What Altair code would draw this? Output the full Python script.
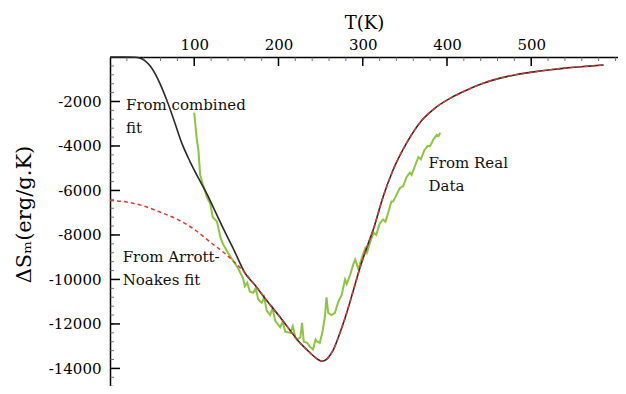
import altair as alt
import pandas as pd

FONT = "DejaVu Serif"

# Combined fit (black), low-temperature part before it merges with the Arrott-Noakes curve
black_T = [0, 20, 30, 36, 42, 48, 54, 60, 68, 76, 85, 95, 105, 115, 125, 135, 148, 160]
black_S = [0, 0, -10, -60, -180, -420, -780, -1250, -2000, -2850, -3850, -4700, -5450, -6150,
           -6950, -7750, -8750, -9700]

# Arrott-Noakes fit (red dashed)
red_T = [0, 20, 40, 60, 80, 100, 120, 140, 160, 173, 186, 202, 214, 222, 234, 247, 252, 258, 265,
         273, 281, 289, 297, 305, 313, 324, 336, 352, 370, 384, 404, 424, 443, 463, 483, 503, 523,
         543, 565, 586]
red_S = [-6450, -6520, -6700, -6980, -7300, -7750, -8350, -8950, -9700, -10300, -10950, -11700,
         -12300, -12700, -13170, -13600, -13680, -13560, -13170, -12400, -11500, -10470, -9440,
         -8550, -7700, -6300, -5080, -3870, -2850, -2350, -1850, -1480, -1180, -950, -790, -670,
         -570, -490, -420, -360]

# Real data (green)
green_T = [100, 103, 105, 107, 110, 115, 119, 122, 127, 131, 134, 140, 146, 152, 156, 158, 160,
           163, 166, 170, 173, 176, 180, 183, 186, 190, 193, 196, 202, 205, 208, 214, 217, 220,
           222, 226, 228, 230, 234, 238, 241, 244, 246, 249, 252, 255, 257, 259, 263, 267, 271,
           275, 279, 281, 285, 289, 291, 295, 299, 303, 305, 309, 313, 316, 320, 324, 327, 331,
           334, 336, 340, 344, 348, 352, 356, 358, 362, 366, 369, 373, 377, 380, 384, 388, 390, 392]
green_S = [-2500, -3700, -4200, -5300, -5700, -6300, -6600, -7200, -7400, -8100, -8400, -8800,
           -9150, -9500, -9800, -9950, -10300, -10150, -10550, -10600, -10400, -10900, -11050,
           -10800, -11400, -11600, -11300, -11850, -12150, -11900, -12350, -12400, -12100, -12600,
           -12700, -12600, -11950, -12800, -12850, -13050, -13150, -12700, -12800, -12850, -12400,
           -11700, -10800, -11500, -11600, -11500, -11000, -10700, -10000, -10200, -9800, -9300,
           -9100, -9550, -9000, -8600, -8800, -8300, -7900, -8000, -7500, -7300, -7400, -6900,
           -6500, -6500, -6200, -5900, -5800, -5400, -5200, -5300, -4900, -4500, -4600, -4200,
           -4000, -4000, -3700, -3500, -3550, -3400]

x_ticks = [100, 200, 300, 400, 500]
y_ticks = [-2000, -4000, -6000, -8000, -10000, -12000, -14000]
x_minor = list(range(20, 601, 20))
y_minor = list(range(-400, -14801, -400))

labels = ["From combined\nfit", "From Arrott-\nNoakes fit", "From Real\nData"]
label_T = [19, 15, 378]
label_S = [-2380, -9210, -4990]

X_DOMAIN = [0, 603]
Y_DOMAIN = [-14790, 0]

# Combined fit follows the Arrott-Noakes curve after the merge point
comb_T = black_T + [t for t in red_T if t > 160]
comb_S = black_S + [s for t, s in zip(red_T, red_S) if t > 160]

df_black = pd.DataFrame({"T": comb_T, "S": comb_S})
df_red = pd.DataFrame({"T": red_T, "S": red_S})
df_green = pd.DataFrame({"T": green_T, "S": green_S})
df_lab = pd.DataFrame({"T": label_T, "S": label_S, "txt": labels})

xs = alt.Scale(domain=X_DOMAIN, nice=False, zero=False)
ys = alt.Scale(domain=Y_DOMAIN, nice=False, zero=False)

x_axis = alt.Axis(orient="top", values=x_ticks, tickSize=0, domainColor="black", domainWidth=1.5,
                  labelFont=FONT, labelFontSize=15, labelColor="black", labelPadding=5,
                  labelExpr="'' + datum.value", grid=False,
                  title="T(K)", titleFont=FONT, titleFontSize=18, titleFontWeight="normal",
                  titleColor="black", titlePadding=5)
y_axis = alt.Axis(values=y_ticks, tickSize=0, domainColor="black", domainWidth=1.5,
                  labelFont=FONT, labelFontSize=15, labelColor="black", labelPadding=9,
                  labelExpr="'' + datum.value", grid=False,
                  title="ΔSₘ(erg/g.K)", titleFont=FONT, titleFontSize=21, titleFontWeight="normal",
                  titleColor="black", titleX=-86, titleY=157, titleAngle=270,
                  titleAlign="center", titleBaseline="middle")

base_black = alt.Chart(df_black).mark_line(color="#2a2a2a", strokeWidth=1.6,
                                           interpolate="monotone").encode(
    x=alt.X("T:Q", scale=xs, axis=x_axis),
    y=alt.Y("S:Q", scale=ys, axis=y_axis),
    order="T:Q",
)
red = alt.Chart(df_red).mark_line(color="#e03a2f", strokeWidth=1.5, strokeDash=[4, 3],
                                  interpolate="monotone").encode(
    x=alt.X("T:Q", scale=xs), y=alt.Y("S:Q", scale=ys), order="T:Q")
green = alt.Chart(df_green).mark_line(color="#8cc63f", strokeWidth=2).encode(
    x=alt.X("T:Q", scale=xs), y=alt.Y("S:Q", scale=ys), order="T:Q")

xt_major = alt.Chart(pd.DataFrame({"T": x_ticks})).mark_rule(color="black", strokeWidth=1.5).encode(
    x=alt.X("T:Q", scale=xs), y=alt.value(0), y2=alt.value(9))
xt_minor = alt.Chart(pd.DataFrame({"T": x_minor})).mark_rule(color="#555", strokeWidth=0.8).encode(
    x=alt.X("T:Q", scale=xs), y=alt.value(0), y2=alt.value(4))
yt_major = alt.Chart(pd.DataFrame({"S": y_ticks})).mark_rule(color="black", strokeWidth=1.5).encode(
    y=alt.Y("S:Q", scale=ys), x=alt.value(0), x2=alt.value(10))
yt_minor = alt.Chart(pd.DataFrame({"S": y_minor})).mark_rule(color="#555", strokeWidth=0.8).encode(
    y=alt.Y("S:Q", scale=ys), x=alt.value(0), x2=alt.value(4))

text = alt.Chart(df_lab).mark_text(font=FONT, fontSize=15, align="left", baseline="alphabetic",
                                   lineBreak="\n", lineHeight=23, color="#111").encode(
    x=alt.X("T:Q", scale=xs), y=alt.Y("S:Q", scale=ys), text="txt:N")

chart = alt.layer(green, base_black, red, xt_minor, yt_minor, xt_major, yt_major, text).properties(
    width=508, height=329,
    autosize=alt.AutoSizeParams(type="none"),
    padding={"left": 102, "top": 49, "right": 0, "bottom": 0},
).configure_view(stroke=None).configure(background="white")

chart.save("out.html", embed_options={"renderer": "svg", "actions": False})
